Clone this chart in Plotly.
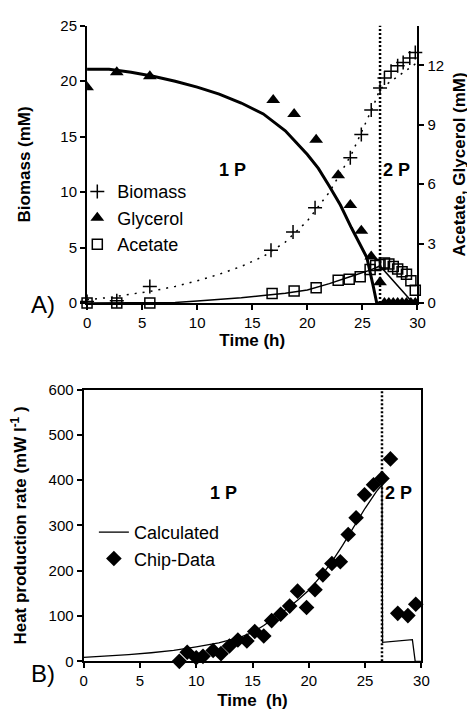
import plotly.graph_objects as go

# ---------------- Panel A data ----------------
biomass_t = [0, 2.7, 5.7, 16.7, 18.7, 20.7, 23.9, 24.9, 25.8, 26.6, 27.0, 27.6, 28.2, 28.7, 29.3, 29.8]
biomass_mM = [0.15, 0.2, 1.5, 4.75, 6.4, 8.6, 13.1, 15.2, 17.4, 19.4, 20.3, 20.9, 21.4, 21.7, 22.1, 22.6]

biomass_fit_t = [0, 2, 4, 6, 8, 10, 12, 14, 16, 18, 20, 22, 24, 26, 26.6, 28, 30]
biomass_fit_mM = [0.3, 0.5, 0.8, 1.1, 1.5, 2.0, 2.6, 3.3, 4.2, 5.5, 7.4, 10.0, 13.4, 17.8, 19.3, 20.3, 21.7]

glycerol_t = [0, 2.7, 5.7, 16.9, 18.8, 20.8, 22.8, 23.9, 24.9, 25.8, 26.6, 27.0, 27.4, 27.8, 28.2, 28.6, 29.0, 29.4, 29.8]
glycerol_mM = [10.9, 11.65, 11.45, 10.25, 9.55, 8.25, 6.45, 4.95, 3.65, 2.35, 1.05, 0, 0, 0, 0, 0, 0, 0, 0]

glycerol_fit_t = [0, 2, 4, 6, 8, 10, 12, 14, 16, 18, 20, 21, 22, 23, 24, 25, 25.4, 26, 26.3, 30]
glycerol_fit_mM = [11.8, 11.8, 11.65, 11.45, 11.2, 10.9, 10.55, 10.1, 9.55, 8.7, 7.5, 6.8, 5.9, 4.95, 3.8, 2.7, 2.3, 0.8, 0, 0]

acetate_t = [0, 2.7, 5.7, 16.8, 18.8, 20.8, 22.8, 23.8, 24.8, 25.7, 26.2, 26.6, 27.0, 27.4, 27.8, 28.2, 28.6, 29.0, 29.4, 29.8]
acetate_mM = [0, 0, 0, 0.48, 0.61, 0.77, 1.15, 1.2, 1.33, 1.7, 1.9, 1.95, 2.02, 1.97, 1.85, 1.72, 1.58, 1.45, 1.12, 0.65]

acetate_fit_t = [0, 6, 8, 10, 12, 14, 16, 18, 20, 22, 24, 25.7, 26.6, 29.6, 30]
acetate_fit_mM = [0, 0, 0.03, 0.1, 0.18, 0.27, 0.38, 0.5, 0.66, 0.98, 1.35, 1.66, 1.87, 0, 0]

phase_switch_A_h = 26.6

# ---------------- Panel B data ----------------
chip_t = [8.5, 9.2, 10.0, 10.6, 11.5, 12.2, 12.95, 13.7, 14.5, 15.2, 16.0, 16.7, 17.5, 18.3, 19.0,
          19.8, 20.55, 21.25, 22.05, 22.8, 23.5, 24.2, 24.95, 25.75, 26.5, 27.25, 27.9, 28.8, 29.5]
chip_mW = [0, 20, 8, 11, 24, 17, 34, 47, 45, 66, 56, 90, 104, 122, 155,
           119, 158, 191, 216, 220, 280, 317, 368, 390, 404, 447, 106, 101, 126]

calc_t = [0, 2, 4, 6, 8, 10, 12, 14, 15, 16, 17, 18, 19, 20, 21, 22, 23, 24, 25, 26, 26.5,
          26.55, 28, 29.2, 29.45, 30]
calc_mW = [8.6, 11, 15, 19, 24, 32, 41, 54, 64, 79, 96, 115, 135, 157, 186, 218, 256, 298, 338, 375, 390,
           42, 46, 48, 0, 0]

phase_switch_B_h = 26.5

x_ticks = [0, 5, 10, 15, 20, 25, 30]
left_ticks_A = [0, 5, 10, 15, 20, 25]
right_ticks_A = [0, 3, 6, 9, 12]
ticks_B = [0, 100, 200, 300, 400, 500, 600]

FONT = "Arial, Liberation Sans, sans-serif"
W, H = 475, 716

fig = go.Figure()

# Panel A traces
fig.add_trace(go.Scatter(x=biomass_fit_t, y=biomass_fit_mM, mode="lines", xaxis="x", yaxis="y",
                         line=dict(color="black", width=1.5, dash="2px,6px"), showlegend=False))
fig.add_trace(go.Scatter(x=glycerol_fit_t, y=glycerol_fit_mM, mode="lines", xaxis="x", yaxis="y2",
                         line=dict(color="black", width=3), showlegend=False))
fig.add_trace(go.Scatter(x=acetate_fit_t, y=acetate_fit_mM, mode="lines", xaxis="x", yaxis="y2",
                         line=dict(color="black", width=1.5), showlegend=False))
fig.add_trace(go.Scatter(x=biomass_t, y=biomass_mM, mode="markers", name="Biomass", xaxis="x", yaxis="y",
                         marker=dict(symbol="cross-thin-open", size=10, color="black",
                                     line=dict(color="black", width=1.5)),
                         cliponaxis=False, legend="legend"))
fig.add_trace(go.Scatter(x=glycerol_t, y=glycerol_mM, mode="markers", name="Glycerol", xaxis="x", yaxis="y2",
                         marker=dict(symbol="triangle-up", size=12, color="black"),
                         cliponaxis=True, legend="legend"))
fig.add_trace(go.Scatter(x=acetate_t, y=acetate_mM, mode="markers", name="Acetate", xaxis="x", yaxis="y2",
                         marker=dict(symbol="square-open", size=10, color="black",
                                     line=dict(color="black", width=1.5)),
                         cliponaxis=False, legend="legend"))

# Panel B traces
fig.add_trace(go.Scatter(x=calc_t, y=calc_mW, mode="lines", name="Calculated", xaxis="x3", yaxis="y3",
                         line=dict(color="black", width=1.3), legend="legend2"))
fig.add_trace(go.Scatter(x=chip_t, y=chip_mW, mode="markers", name="Chip-Data", xaxis="x3", yaxis="y3",
                         marker=dict(symbol="diamond", size=12, color="black"),
                         cliponaxis=False, legend="legend2"))

# domains (pixel -> paper)
xA = [77 / W, 416 / W]
yA = [1 - 293 / H, 1 - 9 / H]
xB = [73.5 / W, 420 / W]
yB = [1 - 660 / H, 1 - 381.7 / H]

axis_common = dict(showgrid=False, zeroline=False, showline=True, linecolor="black", linewidth=2,
                   ticks="outside", ticklen=5, tickwidth=1.5, tickcolor="black",
                   tickfont=dict(family=FONT, size=15, color="black"))
title_font = dict(family=FONT, size=17, color="black")

fig.update_layout(
    width=W, height=H,
    margin=dict(l=0, r=0, t=0, b=0),
    paper_bgcolor="white", plot_bgcolor="white",
    font=dict(family=FONT, color="black"),
    xaxis=dict(domain=xA, range=[0, 30], tickvals=x_ticks, anchor="y",
               title=dict(text="<b>Time (h)</b>", font=title_font, standoff=4), **axis_common),
    yaxis=dict(domain=yA, range=[0, 25], tickvals=left_ticks_A, anchor="x",
               title=dict(text="<b>Biomass (mM)</b>", font=title_font, standoff=25), **axis_common),
    yaxis2=dict(domain=yA, range=[0, 14], tickvals=right_ticks_A, overlaying="y", side="right", anchor="x",
                title=dict(text="<b>Acetate, Glycerol (mM)</b>", font=title_font, standoff=10), **axis_common),
    xaxis3=dict(domain=xB, range=[0, 30], tickvals=x_ticks, anchor="y3", mirror=True,
                title=dict(text="<b>Time  (h)</b>", font=title_font, standoff=6), **axis_common),
    yaxis3=dict(domain=yB, range=[0, 600], tickvals=ticks_B, anchor="x3", mirror=True,
                title=dict(text="<b>Heat production rate (mW l<sup>-1</sup> )</b>", font=title_font, standoff=21),
                **axis_common),
    legend=dict(x=67 / W, y=1 - 160 / H, xanchor="left", yanchor="top", bgcolor="rgba(0,0,0,0)",
                font=dict(family=FONT, size=18, color="black"), tracegroupgap=0),
    legend2=dict(x=84 / W, y=1 - 509 / H, xanchor="left", yanchor="top", bgcolor="rgba(0,0,0,0)",
                 font=dict(family=FONT, size=18, color="black"), tracegroupgap=0),
    shapes=[
        dict(type="line", xref="x", yref="y domain", x0=phase_switch_A_h, x1=phase_switch_A_h, y0=0, y1=1,
             line=dict(color="black", width=2.5, dash="2px,2px")),
        dict(type="line", xref="x3", yref="y3 domain", x0=phase_switch_B_h, x1=phase_switch_B_h, y0=0, y1=1,
             line=dict(color="black", width=2.5, dash="2px,2px")),
    ],
    annotations=[
        dict(text="<b>1 P</b>", x=13.2, y=12, xref="x", yref="y", showarrow=False,
             font=dict(family=FONT, size=18, color="black")),
        dict(text="<b>2 P</b>", x=28.1, y=12, xref="x", yref="y", showarrow=False,
             font=dict(family=FONT, size=18, color="black")),
        dict(text="<b>1 P</b>", x=12.4, y=371, xref="x3", yref="y3", showarrow=False,
             font=dict(family=FONT, size=18, color="black")),
        dict(text="<b>2 P</b>", x=28.0, y=371, xref="x3", yref="y3", showarrow=False,
             font=dict(family=FONT, size=18, color="black")),
        dict(text="A)", x=17 / W, y=1 - 295 / H, xref="paper", yref="paper", showarrow=False,
             font=dict(family=FONT, size=24, color="black")),
        dict(text="B)", x=17 / W, y=1 - 688 / H, xref="paper", yref="paper", showarrow=False,
             font=dict(family=FONT, size=24, color="black")),
    ],
)

fig.write_html("out.html")
